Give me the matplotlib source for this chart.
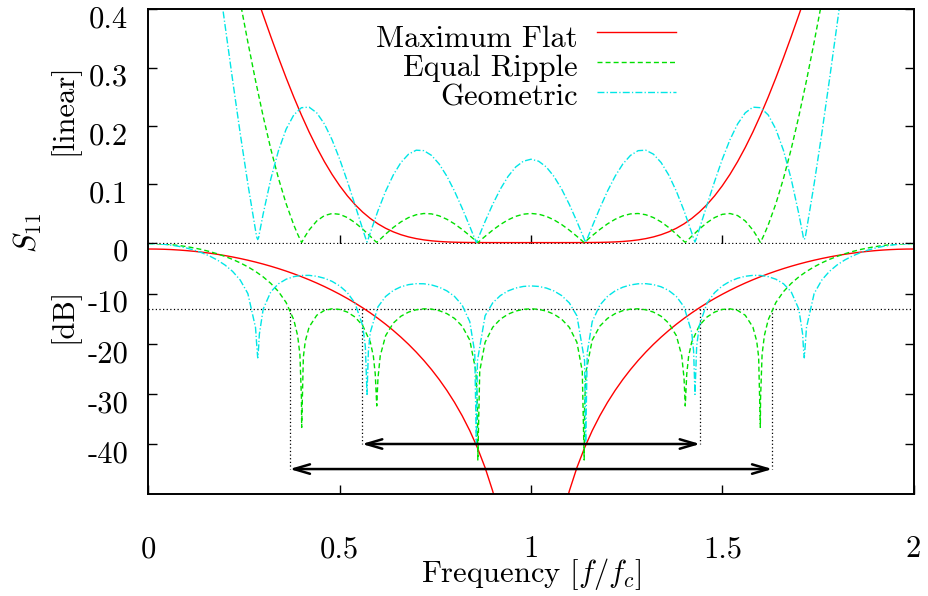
import numpy as np
import matplotlib
matplotlib.use("Agg")
import matplotlib.pyplot as plt
from matplotlib.lines import Line2D
from matplotlib.transforms import ScaledTranslation

plt.rcParams["font.family"] = "cmr10"
plt.rcParams["mathtext.fontset"] = "cm"
plt.rcParams["axes.unicode_minus"] = False
plt.rcParams["font.size"] = 22

# ---------------------------------------------------------------- data
# |S11| (linear) of three six-section designs versus normalised frequency
freq_flat = [
    0.00, 0.02, 0.04, 0.06, 0.08, 0.10, 0.12, 0.14, 0.16, 0.18,
    0.20, 0.22, 0.24, 0.26, 0.28, 0.30, 0.32, 0.34, 0.36, 0.38,
    0.40, 0.42, 0.44, 0.46, 0.48, 0.50, 0.52, 0.54, 0.56, 0.58,
    0.60, 0.62, 0.64, 0.66, 0.68, 0.70, 0.72, 0.74, 0.76, 0.78,
    0.80, 0.82, 0.84, 0.86, 0.88, 0.90, 0.92, 0.94, 0.96, 0.98,
    1.00,
    1.02, 1.04, 1.06, 1.08, 1.10, 1.12, 1.14, 1.16, 1.18, 1.20,
    1.22, 1.24, 1.26, 1.28, 1.30, 1.32, 1.34, 1.36, 1.38, 1.40,
    1.42, 1.44, 1.46, 1.48, 1.50, 1.52, 1.54, 1.56, 1.58, 1.60,
    1.62, 1.64, 1.66, 1.68, 1.70, 1.72, 1.74, 1.76, 1.78, 1.80,
    1.82, 1.84, 1.86, 1.88, 1.90, 1.92, 1.94, 1.96, 1.98, 2.00,
]
s11_flat = [
    0.7800, 0.7777, 0.7708, 0.7595, 0.7438, 0.7241, 0.7007, 0.6739, 0.6440, 0.6117,
    0.5772, 0.5411, 0.5039, 0.4661, 0.4280, 0.3903, 0.3532, 0.3172, 0.2826, 0.2497,
    0.2187, 0.1898, 0.1632, 0.1389, 0.1170, 0.09750, 0.08026, 0.06524, 0.05232, 0.04135,
    0.03217, 0.02460, 0.01846, 0.01357, 0.009751, 0.006829, 0.004647, 0.003061, 0.001941, 0.001178,
    0.0006792, 0.0003678, 0.0001845, 8.405e-05, 3.376e-05, 1.143e-05, 3.023e-06, 5.418e-07, 4.78e-08, 7.49e-10,
    0.0,
    7.49e-10, 4.78e-08, 5.418e-07, 3.023e-06, 1.143e-05, 3.376e-05, 8.405e-05, 0.0001845, 0.0003678, 0.0006792,
    0.001178, 0.001941, 0.003061, 0.004647, 0.006829, 0.009751, 0.01357, 0.01846, 0.02460, 0.03217,
    0.04135, 0.05232, 0.06524, 0.08026, 0.09750, 0.1170, 0.1389, 0.1632, 0.1898, 0.2187,
    0.2497, 0.2826, 0.3172, 0.3532, 0.3903, 0.4280, 0.4661, 0.5039, 0.5411, 0.5772,
    0.6117, 0.6440, 0.6739, 0.7007, 0.7241, 0.7438, 0.7595, 0.7708, 0.7777, 0.7800,
]

freq_ripple = [
    0.00, 0.02, 0.04, 0.06, 0.08, 0.10, 0.12, 0.14, 0.16, 0.18,
    0.20, 0.22, 0.24, 0.26, 0.28, 0.30, 0.32, 0.34, 0.36, 0.38,
    0.39, 0.396, 0.40, 0.4006, 0.405, 0.41, 0.42, 0.44, 0.46, 0.48,
    0.50, 0.52, 0.54, 0.56, 0.58, 0.588, 0.593, 0.5968, 0.60, 0.606,
    0.62, 0.64, 0.66, 0.68, 0.70, 0.72, 0.74, 0.76, 0.78, 0.80,
    0.82, 0.84, 0.856, 0.86, 0.861, 0.866, 0.88, 0.90, 0.92, 0.94,
    0.96, 0.98, 1.00,
    1.02, 1.04, 1.06, 1.08, 1.10, 1.12, 1.134, 1.139, 1.14, 1.144,
    1.16, 1.18, 1.20, 1.22, 1.24, 1.26, 1.28, 1.30, 1.32, 1.34,
    1.36, 1.38, 1.394, 1.40, 1.4032, 1.407, 1.412, 1.42, 1.44, 1.46,
    1.48, 1.50, 1.52, 1.54, 1.56, 1.58, 1.59, 1.595, 1.5994, 1.60,
    1.604, 1.61, 1.62, 1.64, 1.66, 1.68, 1.70, 1.72, 1.74, 1.76,
    1.78, 1.80, 1.82, 1.84, 1.86, 1.88, 1.90, 1.92, 1.94, 1.96,
    1.98, 2.00,
]
s11_ripple = [
    0.9985, 0.9932, 0.9772, 0.9509, 0.9149, 0.8701, 0.8176, 0.7585, 0.6941, 0.6258,
    0.5552, 0.4837, 0.4127, 0.3437, 0.2779, 0.2165, 0.1603, 0.1102, 0.06668, 0.03018,
    0.01462, 0.006127, 0.000815, 0.000214, 0.00543, 0.01124, 0.02154, 0.03711, 0.04636, 0.04991,
    0.04850, 0.04297, 0.03423, 0.02319, 0.01081, 0.00567, 0.00245, 0.000575, 0.00204, 0.00578,
    0.01451, 0.02587, 0.03551, 0.04293, 0.04779, 0.04992, 0.04924, 0.04588, 0.04006, 0.03215,
    0.02257, 0.01185, 0.00284, 0.000565, 4.79e-05, 0.00285, 0.01072, 0.02142, 0.03101, 0.03900,
    0.04501, 0.04874, 0.05000,
    0.04874, 0.04501, 0.03900, 0.03101, 0.02142, 0.01072, 0.00285, 4.79e-05, 0.000565, 0.00284,
    0.01185, 0.02257, 0.03215, 0.04006, 0.04588, 0.04924, 0.04992, 0.04779, 0.04293, 0.03551,
    0.02587, 0.01451, 0.00578, 0.00204, 0.000575, 0.00245, 0.00567, 0.01081, 0.02319, 0.03423,
    0.04297, 0.04850, 0.04991, 0.04636, 0.03711, 0.02154, 0.01124, 0.00543, 0.000214, 0.000815,
    0.006127, 0.01462, 0.03018, 0.06668, 0.1102, 0.1603, 0.2165, 0.2779, 0.3437, 0.4127,
    0.4837, 0.5552, 0.6258, 0.6941, 0.7585, 0.8176, 0.8701, 0.9149, 0.9509, 0.9772,
    0.9932, 0.9985,
]

freq_geo = [
    0.00, 0.02, 0.04, 0.06, 0.08, 0.10, 0.12, 0.14, 0.16, 0.18,
    0.20, 0.22, 0.24, 0.26, 0.28, 0.283, 0.2857, 0.288, 0.29, 0.30,
    0.32, 0.34, 0.36, 0.38, 0.40, 0.42, 0.44, 0.46, 0.48, 0.50,
    0.52, 0.54, 0.56, 0.567, 0.5714, 0.575, 0.58, 0.60, 0.62, 0.64,
    0.66, 0.68, 0.70, 0.72, 0.74, 0.76, 0.78, 0.80, 0.82, 0.84,
    0.853, 0.8571, 0.86, 0.88, 0.90, 0.92, 0.94, 0.96, 0.98, 1.00,
    1.02, 1.04, 1.06, 1.08, 1.10, 1.12, 1.14, 1.1429, 1.147, 1.16,
    1.18, 1.20, 1.22, 1.24, 1.26, 1.28, 1.30, 1.32, 1.34, 1.36,
    1.38, 1.40, 1.42, 1.425, 1.4286, 1.433, 1.44, 1.46, 1.48, 1.50,
    1.52, 1.54, 1.56, 1.58, 1.60, 1.62, 1.64, 1.66, 1.68, 1.70,
    1.71, 1.712, 1.7143, 1.717, 1.72, 1.74, 1.76, 1.78, 1.80, 1.82,
    1.84, 1.86, 1.88, 1.90, 1.92, 1.94, 1.96, 1.98, 2.00,
]
s11_geo = [
    1.001, 0.9931, 0.9697, 0.9313, 0.8791, 0.8145, 0.7392, 0.6552, 0.5648, 0.4704,
    0.3744, 0.2792, 0.1871, 0.1005, 0.02109, 0.009835, 0.005248, 0.008284, 0.01553, 0.04927,
    0.1093, 0.1579, 0.1946, 0.2190, 0.2314, 0.2323, 0.2226, 0.2035, 0.1764, 0.1430,
    0.1051, 0.06458, 0.02326, 0.00891, 0.000977, 0.00718, 0.01703, 0.05462, 0.08801, 0.1159,
    0.1374, 0.1517, 0.1585, 0.1577, 0.1496, 0.1348, 0.1140, 0.08838, 0.05914, 0.02767,
    0.00668, 0.0001, 0.004603, 0.03620, 0.06573, 0.09188, 0.1135, 0.1297, 0.1396, 0.1430,
    0.1396, 0.1297, 0.1135, 0.09188, 0.06573, 0.03620, 0.004603, 0.0001, 0.00668, 0.02767,
    0.05914, 0.08838, 0.1140, 0.1348, 0.1496, 0.1577, 0.1585, 0.1517, 0.1374, 0.1159,
    0.08801, 0.05462, 0.01703, 0.00718, 0.000977, 0.00891, 0.02326, 0.06458, 0.1051, 0.1430,
    0.1764, 0.2035, 0.2226, 0.2323, 0.2314, 0.2190, 0.1946, 0.1579, 0.1093, 0.04927,
    0.01553, 0.008284, 0.005248, 0.009835, 0.02109, 0.1005, 0.1871, 0.2792, 0.3744, 0.4704,
    0.5648, 0.6552, 0.7392, 0.8145, 0.8791, 0.9313, 0.9697, 0.9931, 1.001,
]

series_labels = ["Maximum Flat", "Equal Ripple", "Geometric"]

# -13 dB reference level and the two bandwidths marked on it
ref_level_db = -13
flat_band = [0.558, 1.442]
flat_arrow_db = -40
ripple_band = [0.369, 1.631]
ripple_arrow_db = -45

x_ticks = [0, 0.5, 1, 1.5, 2]
x_ticklabels = ["0", "0.5", "1", "1.5", "2"]
lin_ticks = [0, 0.1, 0.2, 0.3, 0.4]
lin_ticklabels = ["0", "0.1", "0.2", "0.3", "0.4"]
db_ticks = [-40, -30, -20, -10]
db_ticklabels = ["-40", "-30", "-20", "-10"]

# ---------------------------------------------------------------- layout
W, H = 929, 596
fig = plt.figure(figsize=(W / 100, H / 100), dpi=100)


def px_rect(x0, y0, x1, y1):
    return [x0 / W, 1 - y1 / H, (x1 - x0) / W, (y1 - y0) / H]


ax_lin = fig.add_axes(px_rect(148.4, 9.4, 913.6, 243.6))
ax_db = fig.add_axes(px_rect(148.4, 243.6, 913.6, 494.1))

styles = [
    dict(color="#ff0000", lw=1.0, ls="-"),
    dict(color="#00e000", lw=1.0, dashes=(3.6, 2.2)),
    dict(color="#00e6e6", lw=1.0, dashes=(5.0, 1.6, 0.9, 1.6)),
]
curves = [
    (freq_flat, s11_flat),
    (freq_ripple, s11_ripple),
    (freq_geo, s11_geo),
]

dot = dict(color="k", lw=0.9, dashes=(1.0, 1.9))

ax_lin.axhline(0, zorder=1, **dot)
ax_db.axhline(ref_level_db, zorder=1, **dot)

for (f, s), st in zip(curves, styles):
    f = np.asarray(f)
    s = np.asarray(s)
    with np.errstate(divide="ignore"):
        db = 10 * np.log10(s)
    db[~np.isfinite(db)] = np.nan
    ax_lin.plot(f, s, zorder=2, **st)
    ax_db.plot(f, db, zorder=2, **st)

for band, lvl in ((flat_band, flat_arrow_db), (ripple_band, ripple_arrow_db)):
    for edge in band:
        ax_db.plot([edge, edge], [ref_level_db, lvl], zorder=1, **dot)
    ax_db.annotate(
        "", xy=(band[0], lvl), xytext=(band[1], lvl),
        arrowprops=dict(arrowstyle="<->,head_length=1.15,head_width=0.34",
                        lw=1.8, color="k", shrinkA=0, shrinkB=0,
                        mutation_scale=10),
        zorder=3,
    )

ax_lin.set_xlim(0, 2)
ax_lin.set_ylim(-0.4 / 233.2, 0.4)
ax_db.set_xlim(0, 2)
ax_db.set_ylim(-50, 0)

for ax in (ax_lin, ax_db):
    for sp in ax.spines.values():
        sp.set_linewidth(1.4)
ax_lin.spines["bottom"].set_visible(False)
ax_db.spines["top"].set_visible(False)

ax_lin.set_xticks([0.5, 1, 1.5])
ax_lin.tick_params(axis="x", direction="in", bottom=True, top=False,
                   labelbottom=False, length=6.5, width=1.0)
ax_lin.set_yticks(lin_ticks)
ax_lin.set_yticklabels(lin_ticklabels)
ax_lin.tick_params(axis="y", direction="in", left=True, right=True,
                   length=6.5, width=1.0, pad=14.5, labelsize=22)

ax_db.set_xticks(x_ticks)
ax_db.set_xticklabels(x_ticklabels)
ax_db.tick_params(axis="x", direction="in", bottom=True, top=False,
                  length=6.5, width=1.0, pad=30, labelsize=22)
ax_db.set_yticks(db_ticks)
ax_db.set_yticklabels(db_ticklabels)
ax_db.tick_params(axis="y", direction="in", left=True, right=True,
                  length=6.5, width=1.0, pad=14.5, labelsize=22)

shift = ScaledTranslation(0, -7.5 / 100, fig.dpi_scale_trans)
for ax in (ax_lin, ax_db):
    for lab in ax.get_yticklabels():
        lab.set_transform(lab.get_transform() + shift)

# axis titles
fig.text(63.5 / W, 1 - 109 / H, "[linear]", rotation=90, ha="center", va="center")
fig.text(63.5 / W, 1 - 315 / H, "[dB]", rotation=90, ha="center", va="center")
fig.text(28 / W, 1 - 233 / H, r"$S_{11}$", rotation=90, ha="center", va="center")
fig.text(531 / W, 1 - 574 / H, r"Frequency [$f/f_c$]", ha="center", va="center")

# key: right-aligned labels with line samples to their right
key_text_right = 577.7
key_baselines = [46.7, 76.0, 105.5]
key_line_y = [31.7, 61.7, 91.7]
for label, st, yb, yl in zip(series_labels, styles, key_baselines, key_line_y):
    fig.text(key_text_right / W, 1 - yb / H, label, ha="right", va="baseline")
    fig.add_artist(Line2D([596.7 / W, 675.7 / W], [1 - yl / H, 1 - yl / H],
                          transform=fig.transFigure, **st))

fig.savefig("out.png", dpi=100)
